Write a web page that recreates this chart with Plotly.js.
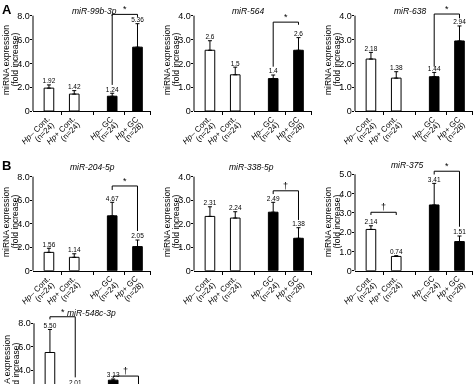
<!DOCTYPE html>
<html><head><meta charset="utf-8">
<script src="https://cdn.plot.ly/plotly-3.0.1.min.js"></script>
<style>html,body{margin:0;padding:0;overflow:hidden;background:#fff;width:474px;height:384px}#wrap{width:474px;height:384px;overflow:hidden;position:relative}#chart{will-change:transform}</style>
</head><body><div id="wrap"><div id="chart"></div></div>
<script>
// ---------- data ----------
const xPos = [0, 1, 2.5, 3.5];
const groupLine1 = ['<i>Hp</i>– Cont.', '<i>Hp</i>+ Cont.', '<i>Hp</i>– GC', '<i>Hp</i>+ GC'];
const groupLine2 = ['(n=24)', '(n=24)', '(n=24)', '(n=28)'];
const barFill = ['#ffffff', '#ffffff', '#000000', '#000000'];

const miRNAs = ['miR-99b-3p', 'miR-564', 'miR-638', 'miR-204-5p', 'miR-338-5p', 'miR-375', 'miR-548c-3p'];
const axisMax = [8, 4, 4, 8, 4, 5, 8];
const axisStep = [2, 1, 1, 2, 1, 1, 2];

const mean_99b = [1.92, 1.42, 1.24, 5.36];
const err_99b  = [0.27, 0.29, 0.25, 1.97];
const lbl_99b  = ['1.92', '1.42', '1.24', '5.36'];

const mean_564 = [2.55, 1.52, 1.36, 2.55];
const err_564  = [0.40, 0.32, 0.15, 0.53];
const lbl_564  = ['2.6', '1.5', '1.4', '2.6'];

const mean_638 = [2.18, 1.38, 1.44, 2.94];
const err_638  = [0.28, 0.27, 0.18, 0.63];
const lbl_638  = ['2.18', '1.38', '1.44', '2.94'];

const mean_204 = [1.56, 1.14, 4.67, 2.05];
const err_204  = [0.35, 0.30, 1.15, 0.56];
const lbl_204  = ['1.56', '1.14', '4.67', '2.05'];

const mean_338 = [2.31, 2.24, 2.49, 1.38];
const err_338  = [0.41, 0.27, 0.42, 0.45];
const lbl_338  = ['2.31', '2.24', '2.49', '1.38'];

const mean_375 = [2.14, 0.74, 3.41, 1.51];
const err_375  = [0.19, 0.04, 1.12, 0.29];
const lbl_375  = ['2.14', '0.74', '3.41', '1.51'];

const mean_548 = [5.50, 2.01, 3.13, null];
const err_548  = [1.97, 0.55, 0.10, null];
const lbl_548  = ['5.50', '2.01', '3.13', ''];

const means = [mean_99b, mean_564, mean_638, mean_204, mean_338, mean_375, mean_548];
const errs  = [err_99b, err_564, err_638, err_204, err_338, err_375, err_548];
const lbls  = [lbl_99b, lbl_564, lbl_638, lbl_204, lbl_338, lbl_375, lbl_548];

// significance brackets
const brkPanel    = [0, 1, 2, 3, 4, 5, 5, 6, 6];
const brkLeftBar  = [2, 2, 2, 2, 2, 0, 2, 0, 2];
const brkRightBar = [3, 3, 3, 3, 3, 1, 3, 1, 3];
const brkTop      = [8.11, 3.73, 4.07, 7.21, 3.40, 3.03, 5.16, 8.56, 3.48];
const brkLeftEnd  = [2.19, 1.86, 1.86, 6.87, 3.26, 2.89, 4.99, 8.34, 3.31];
const brkRightEnd = [7.90, 3.62, 3.89, 3.38, 2.16, 2.89, 2.28, 3.37, 2.20];
const brkMark     = ['*', '*', '*', '*', '†', '†', '*', '*', '†'];

// ---------- layout geometry (pixels) ----------
const W = 474, H = 480;
const colLeft = [33, 194, 355, 33, 194, 355, 34];
const zeroPx  = [111, 111, 111, 270.7, 270.7, 270.7, 416.7];
const topPx   = [15.7, 15.7, 15.7, 176.7, 176.7, 174.3, 323.3];
const titlePos = [[94, 11.5], [248, 11.5], [410, 11.5], [92, 166.5], [252, 166.5], [407, 165.5], [91, 313.3]];
const yTitleY = [60, 60, 60, 222, 222, 222, 370];
const pxPerUnit = 25.3, xr = [-0.63, 4.05], headroom = 1.1;
const FONT = 'Liberation Sans, Arial, sans-serif';

const px = v => v / W, py = v => 1 - v / H;

const data = [], shapes = [], annotations = [];
const layout = {
  width: W, height: H, margin: {l: 0, r: 0, t: 0, b: 0},
  paper_bgcolor: '#fff', plot_bgcolor: 'rgba(0,0,0,0)', showlegend: false,
  font: {family: FONT, color: '#000', size: 10}
};

for (let i = 0; i < 7; i++) {
  const sfx = i === 0 ? '' : String(i + 1);
  const xid = 'x' + sfx, yid = 'y' + sfx;
  const left = colLeft[i], right = left + (xr[1] - xr[0]) * pxPerUnit;
  const z = zeroPx[i], t = topPx[i];
  const tv = [], tt = [];
  for (let v = 0; v <= axisMax[i] + 1e-9; v += axisStep[i]) { tv.push(v); tt.push(v === 0 ? '0' : v.toFixed(1)); }

  layout['xaxis' + sfx] = {
    domain: [px(left), px(right)], range: xr, anchor: yid,
    tickmode: 'array', tickvals: xPos, ticks: '', showticklabels: false,
    minor: {tickmode: 'array', tickvals: [0.5, 1.75, 3, 4], ticks: 'outside', ticklen: 3, tickwidth: 1, tickcolor: '#000', showgrid: false},
    showline: true, linecolor: '#000', linewidth: 1, showgrid: false, zeroline: false, fixedrange: true
  };
  layout['yaxis' + sfx] = {
    domain: [py(z), py(z - headroom * (z - t))], range: [0, headroom * axisMax[i]], anchor: xid,
    tickmode: 'array', tickvals: tv, ticktext: tt, ticks: 'outside', ticklen: 2.5, tickwidth: 1, tickcolor: '#000',
    ticklabelstandoff: -2, tickfont: {size: 9, family: FONT},
    showline: false, showgrid: false, zeroline: false, fixedrange: true
  };

  data.push({
    type: 'bar', x: xPos, y: means[i], xaxis: xid, yaxis: yid, width: 0.38,
    marker: {color: barFill, line: {color: '#000', width: 1}},
    error_y: {type: 'data', symmetric: false, array: errs[i], arrayminus: errs[i].map(() => 0), color: '#000', thickness: 1, width: 2},
    hoverinfo: 'skip'
  });
  data.push({
    type: 'scatter', mode: 'text', x: xPos, xaxis: xid, yaxis: yid,
    y: means[i].map((m, k) => m === null ? null : m + errs[i][k]),
    text: lbls[i], textposition: 'top center', cliponaxis: false,
    textfont: {size: 6.5, family: FONT, color: '#000'}, hoverinfo: 'skip'
  });

  // y-axis line from 0 to the top tick
  shapes.push({type: 'line', xref: xid + ' domain', yref: yid, x0: 0, x1: 0, y0: 0, y1: axisMax[i], line: {color: '#000', width: 1}});

  // rotated category labels (two right-aligned lines)
  for (let k = 0; k < xPos.length; k++) {
    annotations.push({xref: xid, yref: yid + ' domain', x: xPos[k], y: 0, text: groupLine1[k], textangle: -45,
      showarrow: false, xanchor: 'right', yanchor: 'top', xshift: 5.5, yshift: -1, font: {size: 8, family: FONT}});
    annotations.push({xref: xid, yref: yid + ' domain', x: xPos[k], y: 0, text: groupLine2[k], textangle: -45,
      showarrow: false, xanchor: 'right', yanchor: 'top', xshift: 11, yshift: -6.5, font: {size: 8, family: FONT}});
  }

  // panel title
  annotations.push({xref: 'paper', yref: 'paper', x: px(titlePos[i][0]), y: py(titlePos[i][1]), text: '<i>' + miRNAs[i] + '</i>',
    showarrow: false, xanchor: 'center', yanchor: 'middle', font: {size: 8.5, family: FONT}});
  // y-axis title (two lines)
  annotations.push({xref: 'paper', yref: 'paper', x: px(left - 27), y: py(yTitleY[i]), text: 'miRNA expression', textangle: -90,
    showarrow: false, xanchor: 'center', yanchor: 'middle', font: {size: 8.5, family: FONT}});
  annotations.push({xref: 'paper', yref: 'paper', x: px(left - 18.5), y: py(yTitleY[i]), text: '(fold increase)', textangle: -90,
    showarrow: false, xanchor: 'center', yanchor: 'middle', font: {size: 8.5, family: FONT}});
}

for (let b = 0; b < brkPanel.length; b++) {
  const i = brkPanel[b];
  const sfx = i === 0 ? '' : String(i + 1);
  const xa = xPos[brkLeftBar[b]], xb = xPos[brkRightBar[b]];
  shapes.push({type: 'path', xref: 'x' + sfx, yref: 'y' + sfx,
    path: `M ${xa},${brkLeftEnd[b]} L ${xa},${brkTop[b]} L ${xb},${brkTop[b]} L ${xb},${brkRightEnd[b]}`,
    line: {color: '#000', width: 1}});
  annotations.push({xref: 'x' + sfx, yref: 'y' + sfx, x: (xa + xb) / 2, y: brkTop[b], text: brkMark[b], showarrow: false,
    xanchor: 'center', yanchor: 'bottom', yshift: -2, font: {size: 9, family: FONT}});
}

annotations.push({xref: 'paper', yref: 'paper', x: px(0), y: py(0), text: '<b>A</b>', showarrow: false, xanchor: 'left', yanchor: 'top', font: {size: 13, family: FONT}});
annotations.push({xref: 'paper', yref: 'paper', x: px(0), y: py(156), text: '<b>B</b>', showarrow: false, xanchor: 'left', yanchor: 'top', font: {size: 13, family: FONT}});

layout.shapes = shapes;
layout.annotations = annotations;
Plotly.newPlot('chart', data, layout, {displayModeBar: false, staticPlot: true});
</script>
</body></html>
